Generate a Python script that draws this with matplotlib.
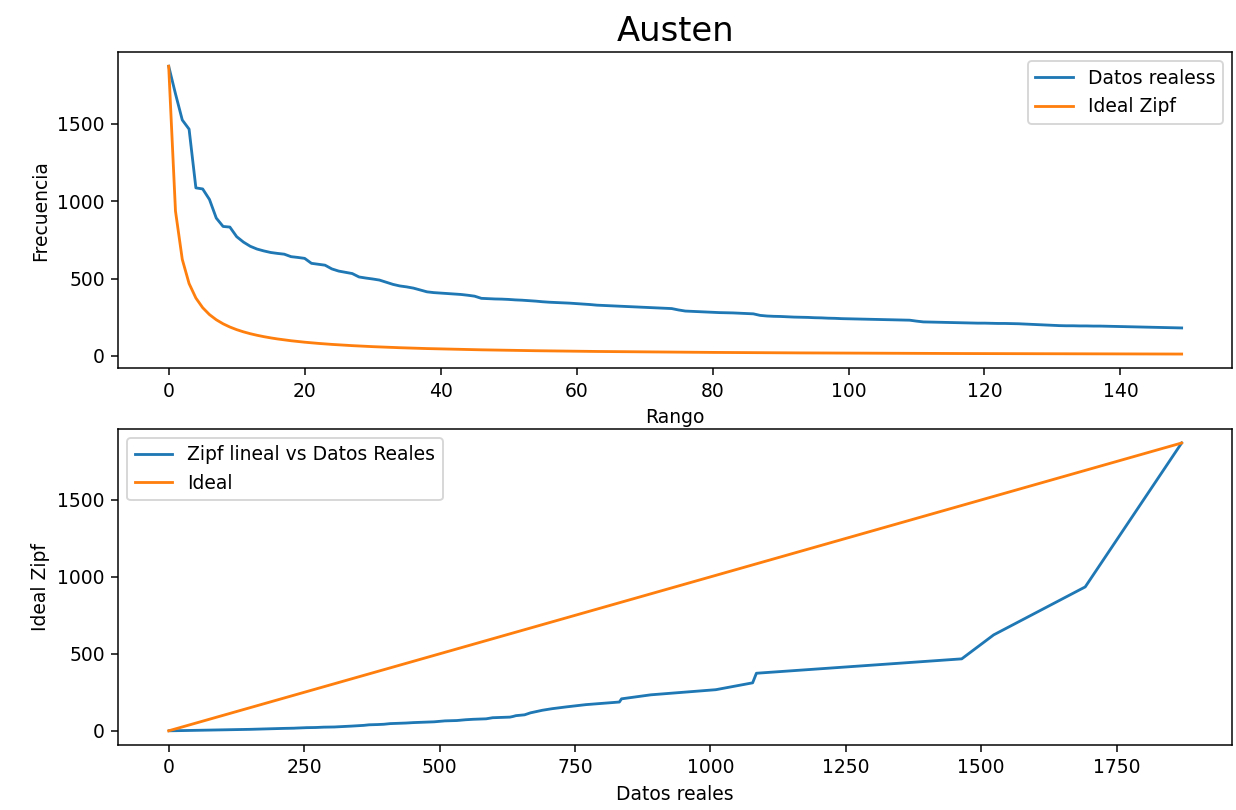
#Imports
import matplotlib
matplotlib.use("Agg")
import matplotlib.pyplot as plt

#Frequencies of the 150 most common words (rank 0..149)
datos_reales = [
    1870, 1692, 1523, 1464, 1085, 1078, 1010, 890, 836, 832,
    770, 735, 708, 690, 678, 668, 662, 657, 641, 636,
    630, 598, 592, 586, 562, 548, 540, 532, 510, 503,
    497, 490, 476, 462, 452, 446, 438, 426, 414, 409,
    406, 403, 400, 397, 392, 386, 372, 370, 368, 367,
    365, 362, 360, 357, 354, 350, 347, 345, 343, 341,
    338, 335, 332, 328, 326, 324, 322, 320, 318, 316,
    314, 312, 310, 308, 306, 297, 290, 288, 286, 284,
    282, 280, 279, 278, 276, 274, 272, 262, 258, 256,
    255, 253, 251, 250, 249, 247, 246, 244, 243, 241,
    240, 239, 238, 237, 236, 235, 234, 233, 232, 231,
    225, 220, 219, 218, 217, 216, 215, 214, 213, 212,
    212, 211, 210, 210, 209, 208, 206, 204, 202, 200,
    198, 196, 195, 195, 194, 194, 193, 193, 192, 191,
    190, 189, 188, 187, 186, 185, 184, 183, 182, 181,
]

#Ideal Zipf frequencies for the same ranks
ideal_zipf = [
    1870, 935, 623.3, 467.5, 374, 311.7, 267.1, 233.8, 207.8, 187,
    170, 155.8, 143.8, 133.6, 124.7, 116.9, 110, 103.9, 98.4, 93.5,
    89.0, 85.0, 81.3, 77.9, 74.8, 71.9, 69.3, 66.8, 64.5, 62.3,
    60.3, 58.4, 56.7, 55.0, 53.4, 51.9, 50.5, 49.2, 47.9, 46.8,
    45.6, 44.5, 43.5, 42.5, 41.6, 40.7, 39.8, 39.0, 38.2, 37.4,
    36.7, 36.0, 35.3, 34.6, 34.0, 33.4, 32.8, 32.2, 31.7, 31.2,
    30.7, 30.2, 29.7, 29.2, 28.8, 28.3, 27.9, 27.5, 27.1, 26.7,
    26.3, 25.9, 25.6, 25.2, 24.9, 24.6, 24.3, 24.0, 23.7, 23.4,
    23.1, 22.8, 22.5, 22.3, 22.0, 21.7, 21.5, 21.3, 21.0, 20.8,
    20.5, 20.3, 20.1, 19.9, 19.7, 19.5, 19.3, 19.1, 18.9, 18.7,
    18.5, 18.3, 18.2, 18.0, 17.8, 17.6, 17.5, 17.3, 17.2, 17.0,
    16.8, 16.7, 16.5, 16.4, 16.3, 16.1, 16.0, 15.8, 15.7, 15.6,
    15.5, 15.3, 15.2, 15.1, 15.0, 14.8, 14.7, 14.6, 14.5, 14.4,
    14.3, 14.2, 14.1, 14.0, 13.9, 13.8, 13.7, 13.6, 13.5, 13.4,
    13.3, 13.2, 13.1, 13.0, 12.9, 12.8, 12.7, 12.6, 12.5, 12.5,
]

#Rest of the vocabulary (ranks past 150), only visible in the lower plot
cola_reales = [150, 100, 60, 30, 10, 1]
cola_zipf = [9.5, 6.0, 3.5, 1.8, 0.6, 0.1]

#Diagonal reference line
ideal_x = [0, 1870]
ideal_y = [0, 1870]

rango = list(range(len(datos_reales)))

fig, (ax1, ax2) = plt.subplots(nrows=2, ncols=1, figsize=(1236 / 135, 810 / 135), dpi=135)

ax1.plot(rango, datos_reales, label="Datos realess")
ax1.plot(rango, ideal_zipf, label="Ideal Zipf")
ax1.set_title("Austen", fontsize=18)
ax1.set_xlabel("Rango")
ax1.set_ylabel("Frecuencia")
ax1.legend(loc="upper right")

ax2.plot(datos_reales + cola_reales, ideal_zipf + cola_zipf, label="Zipf lineal vs Datos Reales")
ax2.plot(ideal_x, ideal_y, label="Ideal")
ax2.set_xlabel("Datos reales")
ax2.set_ylabel("Ideal Zipf")
ax2.legend(loc="upper left")

fig.subplots_adjust(left=0.0955, right=0.997, top=0.936, bottom=0.08, hspace=0.19)

fig.savefig("out.png", dpi=135)
